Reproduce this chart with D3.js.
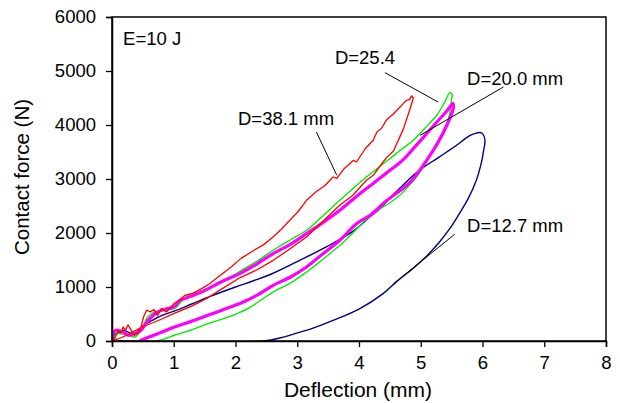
<!DOCTYPE html>
<html>
<head>
<meta charset="utf-8">
<script src="https://cdn.jsdelivr.net/npm/d3@7/dist/d3.min.js"></script>
<style>
  body { margin: 0; background: #fff; }
  text { font-family: "Liberation Sans", Arial, sans-serif; fill: #000; }
</style>
</head>
<body>
<svg id="chart" width="620" height="403"></svg>
<script>
// force (N) vs deflection (mm), loading branch then unloading branch
var red38 = [[0,0],[0.05,60],[0.1,198],[0.14,150],[0.18,259],[0.22,200],[0.26,300],[0.3,220],[0.34,140],[0.37,106],[0.42,150],[0.47,260],[0.51,444],[0.56,569],[0.62,540],[0.68,580],[0.74,476],[0.8,600],[0.88,537],[0.95,620],[1.01,700],[1.1,760],[1.18,846],[1.3,880],[1.45,970],[1.58,1060],[1.72,1185],[1.85,1300],[1.93,1370],[2.09,1530],[2.3,1680],[2.45,1780],[2.61,1926],[2.75,2080],[2.88,2235],[3.0,2380],[3.07,2481],[3.15,2606],[3.3,2760],[3.45,2880],[3.58,3037],[3.64,3010],[3.75,3180],[3.91,3346],[3.96,3315],[4.1,3560],[4.23,3717],[4.29,3870],[4.36,3930],[4.45,4100],[4.55,4200],[4.66,4330],[4.72,4400],[4.77,4457],[4.82,4470],[4.85,4540],[4.88,4500],
  [4.86,4420],[4.81,4241],[4.72,3933],[4.56,3520],[4.45,3400],[4.39,3315],[4.23,3068],[4.12,2976],[3.9,2700],[3.69,2520],[3.4,2200],[3.15,1926],[2.85,1680],[2.61,1494],[2.35,1320],[2.07,1170],[1.8,980],[1.55,800],[1.3,650],[1.01,510],[0.75,380],[0.47,250],[0.3,140],[0.15,60],[0,0]];

var green25 = [[0,0],[0.05,100],[0.1,137],[0.2,120],[0.3,90],[0.37,74],[0.42,120],[0.47,198],[0.58,444],[0.69,537],[0.85,570],[1.01,600],[1.1,700],[1.23,846],[1.4,910],[1.55,970],[1.8,1100],[2.07,1290],[2.35,1480],[2.61,1680],[2.9,1880],[3.15,2050],[3.4,2300],[3.69,2606],[3.9,2820],[4.12,3037],[4.3,3200],[4.5,3378],[4.7,3560],[4.88,3717],[5.05,3920],[5.26,4180],[5.39,4426],[5.47,4600],[5.51,4560],
  [5.5,4489],[5.45,4119],[5.36,3870],[5.26,3624],[5.12,3380],[4.99,3130],[4.83,2900],[4.66,2698],[4.5,2560],[4.33,2440],[4.1,2230],[3.9,2000],[3.69,1772],[3.4,1500],[3.15,1278],[2.9,1080],[2.61,907],[2.4,750],[2.2,600],[1.9,450],[1.55,322],[1.3,210],[1.01,106],[0.85,40],[0.72,0]];

var magenta20 = [[0,0],[0.02,137],[0.06,198],[0.12,190],[0.2,150],[0.26,107],[0.33,120],[0.37,137],[0.47,200],[0.55,330],[0.64,444],[0.72,520],[0.8,569],[0.9,600],[1.01,640],[1.1,754],[1.18,785],[1.3,840],[1.45,907],[1.66,1031],[1.85,1140],[2.07,1248],[2.35,1430],[2.61,1619],[2.9,1800],[3.15,1989],[3.4,2180],[3.69,2420],[3.9,2620],[4.12,2822],[4.3,2980],[4.5,3160],[4.7,3340],[4.88,3563],[5.05,3780],[5.26,4056],[5.4,4230],[5.47,4333],[5.52,4400],
  [5.53,4333],[5.37,3870],[5.15,3439],[4.83,2944],[4.45,2600],[4.18,2328],[3.95,2164],[3.69,1865],[3.4,1600],[3.15,1370],[2.9,1190],[2.61,1031],[2.35,850],[2.07,693],[1.8,580],[1.55,476],[1.3,370],[1.01,259],[0.75,140],[0.53,44],[0.45,0]];

var navy127 = [[0,0],[0.05,120],[0.1,150],[0.18,200],[0.25,170],[0.33,130],[0.4,160],[0.5,280],[0.65,380],[0.8,470],[1.05,570],[1.3,690],[1.6,830],[2.0,1000],[2.3,1120],[2.6,1250],[3.04,1494],[3.3,1640],[3.5,1760],[3.75,1920],[3.96,2081],[4.18,2300],[4.34,2450],[4.5,2650],[4.7,2870],[4.88,3068],[5.05,3220],[5.26,3378],[5.42,3500],[5.58,3624],[5.7,3730],[5.8,3809],[5.9,3850],[5.96,3860],[6.0,3840],[6.04,3717],
  [6.01,3476],[5.99,3346],[5.9,2976],[5.77,2640],[5.62,2350],[5.47,2080],[5.3,1830],[5.1,1580],[4.85,1320],[4.6,1090],[4.39,877],[4.0,590],[3.6,390],[3.2,215],[3.0,150],[2.75,65],[2.45,0],[0.1,0]];

var xTicks = [0, 1, 2, 3, 4, 5, 6, 7, 8];
var yTicks = [0, 1000, 2000, 3000, 4000, 5000, 6000];

// label text, text anchor (data), leader line from -> to (data)
var labels = [
  { text: "D=38.1 mm", at: [2.04, 3994], from: [3.31, 3870], to: [3.64, 3069] },
  { text: "D=25.4",    at: [3.61, 5137], from: [4.42, 4970], to: [5.28, 4426] },
  { text: "D=20.0 mm", at: [5.75, 4748], from: [6.34, 4704], to: [4.99, 3809] },
  { text: "D=12.7 mm", at: [5.75, 2019], from: [5.55, 1976], to: [4.56, 1063] }
];

var svg = d3.select("#chart"),
    margin = {top: 17, right: 14, bottom: 62, left: 112},
    width = +svg.attr("width") - margin.left - margin.right,
    height = +svg.attr("height") - margin.top - margin.bottom,
    g = svg.append("g").attr("transform", "translate(" + margin.left + "," + margin.top + ")");

var x = d3.scaleLinear().domain([0, 8]).range([0, width]);
var y = d3.scaleLinear().domain([0, 6000]).range([height, 0]);

var series = [
  { data: navy127, color: "#000080", w: 1.4, smooth: true },
  { data: green25, color: "#00ee00", w: 1.4, smooth: true },
  { data: magenta20, color: "#ff00ff", w: 3.2, smooth: true },
  { data: red38, color: "#ff0000", w: 1.3, smooth: false }
];

g.append("defs").append("clipPath").attr("id", "clip")
  .append("rect").attr("width", width).attr("height", height);

g.selectAll(".curve")
  .data(series)
  .enter().append("path")
    .attr("class", "curve")
    .attr("clip-path", "url(#clip)")
    .attr("d", function(d) {
      return d3.line()
        .x(function(p) { return x(p[0]); })
        .y(function(p) { return y(p[1]); })
        .curve(d.smooth ? d3.curveCatmullRom.alpha(0.5) : d3.curveLinear)(d.data);
    })
    .attr("fill", "none")
    .attr("stroke", function(d) { return d.color; })
    .attr("stroke-width", function(d) { return d.w; })
    .attr("stroke-linejoin", "round");

// frame
g.append("rect")
    .attr("width", width)
    .attr("height", height)
    .attr("fill", "none")
    .attr("stroke", "#000")
    .attr("stroke-width", 1.5);

var xAxis = g.append("g")
    .attr("transform", "translate(0," + height + ")")
    .call(d3.axisBottom(x).tickValues(xTicks).tickSize(6).tickPadding(9));

var yAxis = g.append("g")
    .call(d3.axisLeft(y).tickValues(yTicks).tickFormat(d3.format("d")).tickSize(6).tickPadding(10));

[xAxis, yAxis].forEach(function(a) {
  a.select(".domain").attr("stroke-width", 1.5);
  a.selectAll(".tick line").attr("stroke-width", 1.3);
  a.selectAll("text")
    .style("font-family", "'Liberation Sans', Arial, sans-serif")
    .style("font-size", "18.5px");
});

// annotations
g.selectAll(".lead")
  .data(labels)
  .enter().append("line")
    .attr("class", "lead")
    .attr("x1", function(d) { return x(d.from[0]); })
    .attr("y1", function(d) { return y(d.from[1]); })
    .attr("x2", function(d) { return x(d.to[0]); })
    .attr("y2", function(d) { return y(d.to[1]); })
    .attr("stroke", "#000")
    .attr("stroke-width", 1);

g.selectAll(".lab")
  .data(labels)
  .enter().append("text")
    .attr("class", "lab")
    .attr("x", function(d) { return x(d.at[0]); })
    .attr("y", function(d) { return y(d.at[1]); })
    .style("font-size", "18.5px")
    .text(function(d) { return d.text; });

g.append("text")
    .attr("x", x(0.18))
    .attr("y", y(5476))
    .style("font-size", "18.5px")
    .text("E=10 J");

// axis titles
svg.append("text")
    .attr("transform", "translate(29," + 177 + ") rotate(-90)")
    .attr("text-anchor", "middle")
    .style("font-size", "20.5px")
    .text("Contact force (N)");

svg.append("text")
    .attr("x", 358)
    .attr("y", 397)
    .attr("text-anchor", "middle")
    .style("font-size", "21px")
    .text("Deflection (mm)");
</script>
</body>
</html>
